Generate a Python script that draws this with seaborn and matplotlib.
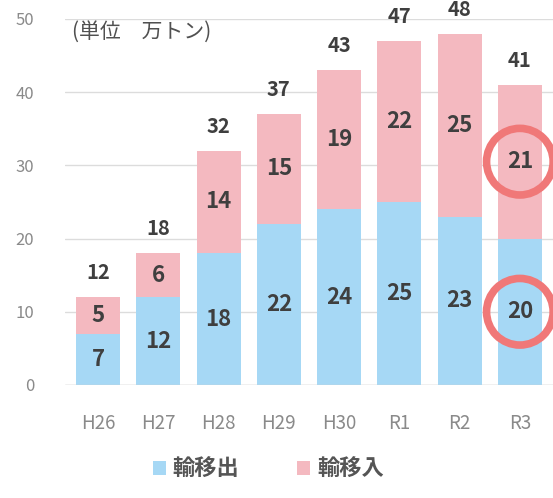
import matplotlib
matplotlib.use('Agg')
import matplotlib.pyplot as plt
import seaborn as sns
import pandas as pd

# データ（単位 万トン）
years = ['H26', 'H27', 'H28', 'H29', 'H30', 'R1', 'R2', 'R3']
export_vals = [7, 12, 18, 22, 24, 25, 23, 20]   # 輸移出
import_vals = [5, 6, 14, 15, 19, 22, 25, 21]    # 輸移入
totals = [12, 18, 32, 37, 43, 47, 48, 41]

sns.set_theme(style='white')
plt.rcParams['font.family'] = ['Noto Sans CJK JP', 'DejaVu Sans']

blue = '#a6d8f5'
pink = '#f4b9c0'
text_col = '#3f3f3f'
tick_col = '#8a8a8a'

df = pd.DataFrame({'year': years, 'out': export_vals, 'in': import_vals, 'total': totals})

fig = plt.figure(figsize=(5.53, 4.98), dpi=100)
ax = fig.add_axes([0.1175, 0.227, 0.8825, 0.735])

# 積み上げ棒（合計を輸移入色で描き、その上に輸移出を重ねる）
sns.barplot(data=df, x='year', y='total', color=pink, width=0.73, saturation=1,
            ax=ax, label='輸移入', linewidth=0)
sns.barplot(data=df, x='year', y='out', color=blue, width=0.73, saturation=1,
            ax=ax, label='輸移出', linewidth=0)
handles, labels = ax.get_legend_handles_labels()
if ax.get_legend() is not None:
    ax.get_legend().remove()

ax.set_ylim(0, 50)
ax.set_xlim(-0.55, 7.55)
ax.set_yticks(range(0, 51, 10))
ax.yaxis.grid(True, color='#dcdcdc', linewidth=1)
ax.set_axisbelow(True)
for s in ax.spines.values():
    s.set_visible(False)
ax.set_xlabel('')
ax.set_ylabel('')
ax.tick_params(axis='y', colors=tick_col, labelsize=12, pad=22, length=0)
ax.tick_params(axis='x', colors=tick_col, labelsize=13.5, pad=20, length=0)
ax.axhline(0, color='#d0d0d0', linewidth=1)

# 値ラベル
for i in range(len(years)):
    o, n, t = export_vals[i], import_vals[i], totals[i]
    ax.text(i, o / 2, str(o), ha='center', va='center', fontsize=16,
            fontweight='bold', color=text_col)
    ax.text(i, o + n / 2, str(n), ha='center', va='center', fontsize=16,
            fontweight='bold', color=text_col)
    ax.text(i, t + 1.9, str(t), ha='center', va='bottom', fontsize=14.5,
            fontweight='bold', color=text_col, clip_on=False)

# R3 の強調円
ax.scatter([7, 7], [export_vals[7] / 2, export_vals[7] + import_vals[7] / 2],
           s=2300, facecolors='none', edgecolors='#f07878', linewidths=5.5,
           clip_on=False, zorder=5)

ax.text(0.015, 0.995, '(単位　万トン)', transform=ax.transAxes, ha='left', va='top',
        fontsize=15, color='#505050')

# 凡例
order = [labels.index('輸移出'), labels.index('輸移入')]
fig.legend([handles[k] for k in order], [labels[k] for k in order],
           loc='lower center', bbox_to_anchor=(0.485, -0.005), ncol=2, frameon=False,
           handlelength=0.6, handleheight=0.6, handletextpad=0.3, columnspacing=2.6,
           prop={'size': 16, 'weight': 'bold'}, labelcolor='#555555')

fig.savefig('out.png', dpi=100)
